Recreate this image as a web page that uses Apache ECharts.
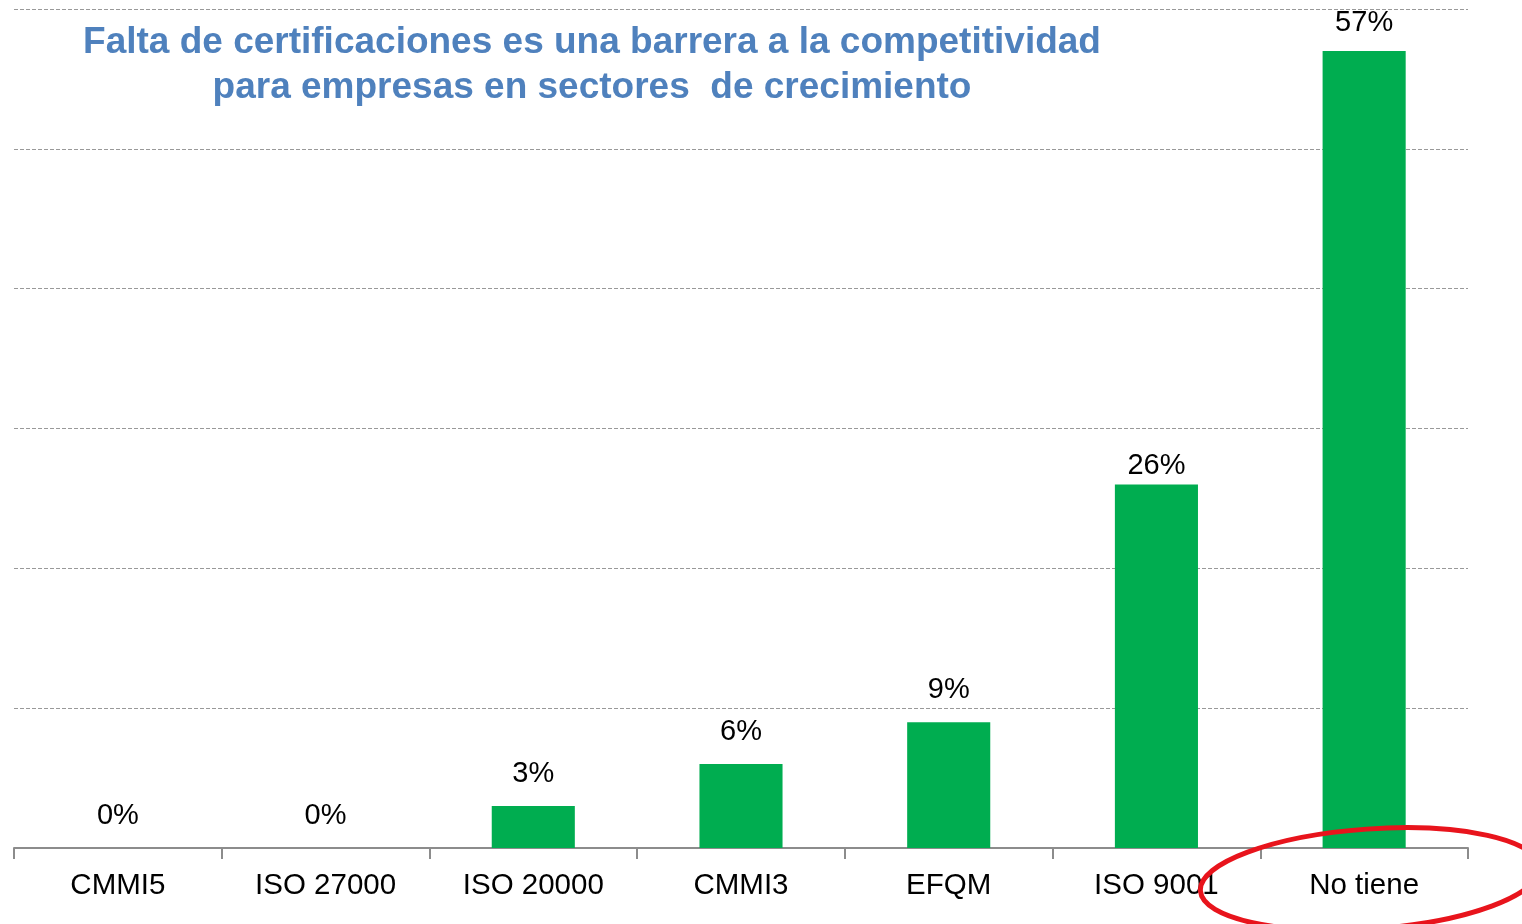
<!DOCTYPE html>
<html>
<head>
<meta charset="utf-8">
<script src="https://cdn.jsdelivr.net/npm/echarts@6/dist/echarts.min.js"></script>
<style>
  html, body { margin: 0; padding: 0; background: #fff; }
  #chart { width: 1522px; height: 924px; }
</style>
</head>
<body>
<div id="chart"></div>
<script>
const categories = ['CMMI5', 'ISO 27000', 'ISO 20000', 'CMMI3', 'EFQM', 'ISO 9001', 'No tiene'];
const percentValues = [0, 0, 3, 6, 9, 26, 57];
const titleLines = ['Falta de certificaciones es una barrera a la competitividad', 'para empresas en sectores  de crecimiento'];

const myChart = echarts.init(document.getElementById('chart'));

// the labels in the original sit at uneven heights above the bars
const labelGap = [18, 18, 18, 18, 18, 4, 13];
const barData = percentValues.map(function (v, i) {
  return { value: v, label: { distance: labelGap[i] } };
});

myChart.setOption({
  animation: false,
  backgroundColor: '#fff',
  title: {
    text: titleLines.join('\n'),
    left: 592,
    top: 20,
    padding: 0,
    textAlign: 'center',
    textStyle: {
      fontFamily: 'Liberation Sans',
      fontWeight: 'bold',
      fontSize: 37,
      lineHeight: 45,
      color: '#4f81bd'
    }
  },
  grid: { left: 14, right: 54, top: 9, bottom: 76 },
  xAxis: {
    type: 'category',
    data: categories,
    axisLine: { lineStyle: { color: '#8c8c8c', width: 2 } },
    axisTick: { show: true, length: 11, lineStyle: { color: '#8c8c8c', width: 2 } },
    axisLabel: {
      margin: 23,
      fontFamily: 'Liberation Sans',
      fontSize: 29.5,
      color: '#000'
    }
  },
  yAxis: {
    type: 'value',
    min: 0,
    max: 60,
    interval: 10,
    axisLine: { show: false },
    axisTick: { show: false },
    axisLabel: { show: false },
    splitLine: { lineStyle: { color: '#999', type: [4, 2], width: 1 } }
  },
  series: [{
    type: 'bar',
    data: barData,
    barWidth: '40%',
    itemStyle: { color: '#00ad50' },
    label: {
      show: true,
      position: 'top',
      formatter: '{c}%',
      fontFamily: 'Liberation Sans',
      fontSize: 29,
      color: '#000'
    }
  }],
  graphic: [{
    type: 'ellipse',
    shape: { cx: 1370, cy: 879, rx: 170, ry: 50 },
    originX: 1370,
    originY: 879,
    rotation: 0.07,
    style: { fill: 'none', stroke: '#e8141c', lineWidth: 5 },
    z: 100
  }]
});
window.onresize = function () {
  myChart.resize();
};
</script>
</body>
</html>
